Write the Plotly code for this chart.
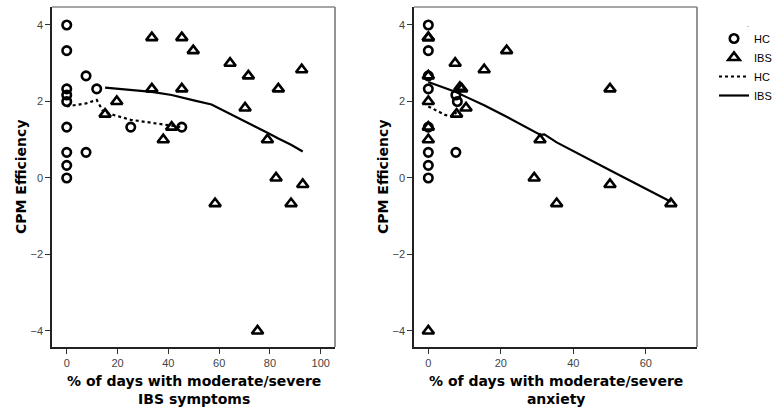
import plotly.graph_objects as go

# Left panel: % of days with moderate/severe IBS symptoms
hc_sym_x = [0, 0, 0, 0, 0, 0, 0, 0, 0, 7.6, 7.6, 11.8, 25.2, 45.3]
hc_sym_y = [4, 3.33, 2.33, 2.17, 2.0, 1.33, 0.67, 0.33, 0, 2.67, 0.67, 2.33, 1.33, 1.33]
ibs_sym_x = [15.1, 19.7, 33.5, 33.5, 38.0, 41.3, 45.3, 45.3, 49.8, 64.3, 71.5, 92.5, 83.3,
             70.2, 79.0, 82.4, 92.9, 58.4, 88.3, 75.1]
ibs_sym_y = [1.67, 2.0, 3.67, 2.33, 1.0, 1.33, 3.67, 2.33, 3.33, 3.0, 2.67, 2.83, 2.33,
             1.83, 1.0, 0.0, -0.17, -0.67, -0.67, -4.0]
hc_sym_fit_x = [0, 7.6, 11.8, 14.5, 25.2, 35, 45.3]
hc_sym_fit_y = [1.87, 1.95, 2.04, 1.72, 1.52, 1.42, 1.33]
ibs_sym_fit_x = [15.1, 25, 33.5, 41.3, 45.3, 50, 57, 64.3, 71.5, 79, 83.3, 88.3, 92.9]
ibs_sym_fit_y = [2.36, 2.31, 2.25, 2.17, 2.1, 2.03, 1.92, 1.68, 1.44, 1.18, 1.03, 0.87, 0.69]

# Right panel: % of days with moderate/severe anxiety
hc_anx_x = [0, 0, 0, 0, 0, 0, 0, 0, 7.6, 8.0, 7.6]
hc_anx_y = [4, 3.33, 2.67, 2.33, 1.33, 0.67, 0.33, 0, 2.17, 2.0, 0.67]
ibs_anx_x = [0, 0, 0, 0, 0, 0, 0, 7.4, 7.8, 9.2, 8.7, 10.4, 15.4, 21.6, 30.8, 29.2, 35.4,
             50.1, 50.1, 66.9]
ibs_anx_y = [3.67, 3.67, 2.67, 2.0, 1.33, 1.0, -4.0, 3.0, 1.67, 2.33, 2.37, 1.83, 2.83, 3.33,
             1.0, 0.0, -0.67, 2.33, -0.17, -0.67]
hc_anx_fit_x = [0, 4.6, 6.5, 7.8]
hc_anx_fit_y = [1.87, 1.65, 1.6, 1.72]
ibs_anx_fit_x = [0, 7.6, 10.4, 15.4, 21.6, 29.2, 30.8, 32, 33.5, 35.4, 50.1, 66.9]
ibs_anx_fit_y = [2.51, 2.25, 2.12, 1.9, 1.6, 1.22, 1.13, 1.14, 1.04, 0.93, 0.2, -0.62]

x_ticks_left = [0, 20, 40, 60, 80, 100]
x_ticks_right = [0, 20, 40, 60]
y_ticks = [-4, -2, 0, 2, 4]

x_title_left = "% of days with moderate/severe<br>IBS symptoms"
x_title_right = "% of days with moderate/severe<br>anxiety"
y_title = "CPM Efficiency"

BLACK = "#000000"
circ = dict(symbol="circle-open", size=8.5, color=BLACK, line=dict(width=2.6, color=BLACK))
tri = dict(symbol="triangle-up-open", size=10, color=BLACK, line=dict(width=2.6, color=BLACK))

fig = go.Figure()
fig.add_trace(go.Scatter(x=hc_sym_x, y=hc_sym_y, mode="markers", marker=circ, name="HC",
                         xaxis="x", yaxis="y", legendrank=1))
fig.add_trace(go.Scatter(x=ibs_sym_x, y=ibs_sym_y, mode="markers", marker=tri, name="IBS",
                         xaxis="x", yaxis="y", legendrank=2))
fig.add_trace(go.Scatter(x=hc_sym_fit_x, y=hc_sym_fit_y, mode="lines",
                         line=dict(color=BLACK, width=2.2, dash="dot"), name="HC",
                         xaxis="x", yaxis="y", legendrank=3))
fig.add_trace(go.Scatter(x=ibs_sym_fit_x, y=ibs_sym_fit_y, mode="lines",
                         line=dict(color=BLACK, width=2.2), name="IBS",
                         xaxis="x", yaxis="y", legendrank=4))
fig.add_trace(go.Scatter(x=hc_anx_x, y=hc_anx_y, mode="markers", marker=circ, name="HC",
                         xaxis="x2", yaxis="y2", showlegend=False))
fig.add_trace(go.Scatter(x=ibs_anx_x, y=ibs_anx_y, mode="markers", marker=tri, name="IBS",
                         xaxis="x2", yaxis="y2", showlegend=False))
fig.add_trace(go.Scatter(x=hc_anx_fit_x, y=hc_anx_fit_y, mode="lines",
                         line=dict(color=BLACK, width=2.2, dash="dot"), name="HC",
                         xaxis="x2", yaxis="y2", showlegend=False))
fig.add_trace(go.Scatter(x=ibs_anx_fit_x, y=ibs_anx_fit_y, mode="lines",
                         line=dict(color=BLACK, width=2.2), name="IBS",
                         xaxis="x2", yaxis="y2", showlegend=False))

W, H = 778, 412
ydom = [1 - 347 / H, 1 - 7 / H]
xdom1 = [52 / W, 335 / W]
xdom2 = [414 / W, 697 / W]

tickfont = dict(family="Liberation Sans, Arial, sans-serif", size=11, color="#444444")
titlefont = dict(family="DejaVu Sans, Verdana, sans-serif", size=14, color=BLACK)

axcommon = dict(showgrid=False, zeroline=False, showline=True, linecolor="#222222",
                linewidth=1.5, ticks="outside", ticklen=5, tickwidth=1.2,
                tickcolor="#333333", tickfont=tickfont, automargin=False)

fig.update_layout(
    width=W, height=H,
    margin=dict(l=0, r=0, t=0, b=0, autoexpand=False),
    paper_bgcolor="white", plot_bgcolor="white",
    xaxis=dict(domain=xdom1, range=[-5.8, 105.6], tickvals=x_ticks_left, anchor="y", **axcommon),
    yaxis=dict(domain=ydom, range=[-4.42, 4.47], tickvals=y_ticks, anchor="x", **axcommon),
    xaxis2=dict(domain=xdom2, range=[-3.95, 74.1], tickvals=x_ticks_right, anchor="y2", **axcommon),
    yaxis2=dict(domain=ydom, range=[-4.42, 4.47], tickvals=y_ticks, anchor="x2", **axcommon),
    legend=dict(x=714 / W, y=1 - 24 / H, xanchor="left", yanchor="top",
                font=dict(family="Liberation Sans, Arial, sans-serif", size=11, color=BLACK),
                tracegroupgap=0, itemwidth=30, bgcolor="rgba(0,0,0,0)"),
    showlegend=True,
)

# axis titles
for cx, t in ((193.5, x_title_left), (555.5, x_title_right)):
    fig.add_annotation(text="<b>" + t.replace("<br>", "</b><br><b>") + "</b>",
                       xref="paper", yref="paper",
                       x=cx / W, y=1 - 390 / H, xanchor="center", yanchor="middle",
                       showarrow=False, font=titlefont)
for cx in (21, 383):
    fig.add_annotation(text="<b>" + y_title + "</b>", xref="paper", yref="paper",
                       x=cx / W, y=1 - 177 / H, xanchor="center", yanchor="middle",
                       textangle=-90, showarrow=False, font=titlefont)
# tiny dot above legend (as in reference)
fig.add_annotation(text=".", xref="paper", yref="paper", x=751 / W, y=1 - 16 / H,
                   showarrow=False, font=dict(size=8, color="#555555"))

# top/right gray frame lines
for xd in (xdom1, xdom2):
    fig.add_shape(type="line", xref="paper", yref="paper", x0=xd[0], x1=xd[1], y0=ydom[1], y1=ydom[1],
                  line=dict(color="#888888", width=1.5))
    fig.add_shape(type="line", xref="paper", yref="paper", x0=xd[1], x1=xd[1], y0=ydom[0], y1=ydom[1],
                  line=dict(color="#888888", width=1.8))

# remove the browser's default 8px body margin so the figure fills the window exactly
fig.write_html("out.html", config={"displayModeBar": False},
               post_script="document.body.style.margin='0';")
